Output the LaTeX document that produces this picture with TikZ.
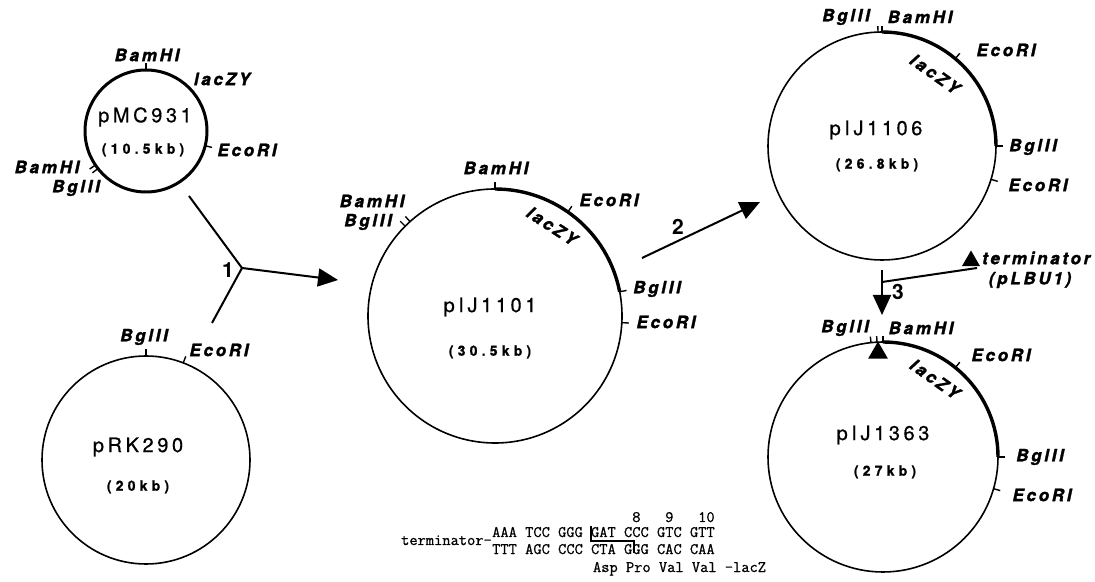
\documentclass[tikz,border=0pt]{standalone}
\usepackage{fontspec}
\setmainfont{TeX Gyre Heros}
\newfontfamily\enzfont[LetterSpace=16,FakeBold=1.6]{TeX Gyre Heros}
\newfontfamily\namefont[LetterSpace=18,FakeBold=0.6]{TeX Gyre Heros}
\newfontfamily\sizefont[LetterSpace=30,FakeBold=0.8]{TeX Gyre Heros}
\newfontfamily\seqfont[FakeBold=0.9]{Latin Modern Mono}
\usetikzlibrary{arrows.meta,calc,shapes.geometric}

% short radial tick marking a restriction site on a plasmid circle
\newcommand{\site}[3][7]{\draw[sitetick] (#2.#3) -- ($(#2.#3)!-#1pt!(#2.center)$);}

\tikzset{
  plasmid/.style={circle, draw, line width=1.6pt, inner sep=0pt, outer sep=0pt, minimum size=#1},
  laczarc/.style={line width=3.4pt},
  sitetick/.style={line width=1.4pt},
  enz/.style={font=\enzfont\bfseries\itshape\fontsize{17}{17}\selectfont, inner sep=0pt},
  pname/.style={font=\namefont\fontsize{20}{20}\selectfont, inner sep=0pt},
  psize/.style={font=\sizefont\bfseries\fontsize{14}{14}\selectfont, inner sep=0pt},
  stepnum/.style={font=\bfseries\fontsize{21}{21}\selectfont, inner sep=0pt},
  conn/.style={line width=2pt},
  arr/.style={line width=2pt, -{Triangle[length=20pt,width=18pt]}},
  tri/.style={regular polygon, regular polygon sides=3, fill=black, inner sep=0pt, minimum size=#1},
  seq/.style={font=\seqfont\fontsize{16}{16}\selectfont, inner sep=0pt},
}

\begin{document}
\begin{tikzpicture}[x=1pt,y=1pt]
\fill[white] (0,0) rectangle (1095,581);
\useasboundingbox (0,0) rectangle (1095,581);

% ---- pMC931 ----
\node[plasmid=122, line width=3pt] (pmc) at (146,450) {};
\node[pname] (pmcname) at (145,464) {pMC931};
\node[psize] (pmcsize) at (143,431) {(10.5kb)};
\site{pmc}{90}
\site{pmc}{-14}
\site{pmc}{-142}
\site{pmc}{-146}
\node[enz] (pmcbam) at (147,526) {BamHI};
\node[enz] (pmclac) at (222,502) {lacZY};
\node[enz] (pmceco) at (247,431) {EcoRI};
\node[enz] (pmcbam2) at (47,414) {BamHI};
\node[enz] (pmcbgl) at (76,393) {BglII};

% ---- pRK290 ----
\node[plasmid=208] (prk) at (146,121) {};
\node[pname] (prkname) at (138,134) {pRK290};
\node[psize] (prksize) at (138,94) {(20kb)};
\site{prk}{90}
\site{prk}{69}
\node[enz] (prkbgl) at (144,244) {BglII};
\node[enz] (prkeco) at (219,231) {EcoRI};

% ---- step 1: pMC931 + pRK290 ----
\coordinate (s1a) at (189,385);
\coordinate (s1b) at (212,258);
\coordinate (j1) at (242,313);
\coordinate (t1) at (338,301);
\draw[conn] (s1a) -- (j1) -- (s1b);
\draw[arr] (j1) -- (t1);
\node[stepnum] (n1) at (228,311) {1};

% ---- pIJ1101 ----
\node[plasmid=254] (pija) at (495,265) {};
\draw[laczarc] (pija.90) arc[start angle=90, end angle=11, radius=127];
\node[pname] (pijaname) at (490,274) {pIJ1101};
\node[psize] (pijasize) at (490,229) {(30.5kb)};
\site{pija}{90}
\site{pija}{132}
\site{pija}{135}
\site{pija}{55}
\site{pija}{11}
\site{pija}{-3}
\node[enz] (pijabam) at (496,413) {BamHI};
\node[enz] (pijabam2) at (372,380) {BamHI};
\node[enz] (pijabgl2) at (368,359) {BglII};
\node[enz] (pijaeco) at (609,381) {EcoRI};
\node[enz, rotate=-33] (pijalac) at (552,355) {lacZY};
\node[enz] (pijabgl) at (657,292) {BglII};
\node[enz] (pijaeco2) at (666,259) {EcoRI};

% ---- step 2 ----
\coordinate (s2) at (642,323);
\coordinate (t2) at (760,379);
\draw[arr] (s2) -- (t2);
\node[stepnum] (n2) at (678,354) {2};

% ---- pIJ1106 ----
\node[plasmid=228] (pijb) at (882,435) {};
\draw[laczarc] (pijb.90) arc[start angle=90, end angle=0, radius=114];
\node[pname] (pijbname) at (876,451) {pIJ1106};
\node[psize] (pijbsize) at (877,416) {(26.8kb)};
\site[6]{pijb}{90}
\site[6]{pijb}{92}
\site{pijb}{50}
\site{pijb}{0}
\site{pijb}{-17}
\node[enz] (pijbbgl2) at (846,564) {BglII};
\node[enz] (pijbbam) at (920,564) {BamHI};
\node[enz] (pijbeco) at (1006,531) {EcoRI};
\node[enz, rotate=-35] (pijblac) at (935,507) {lacZY};
\node[enz] (pijbbgl) at (1033,434) {BglII};
\node[enz] (pijbeco2) at (1038,396) {EcoRI};

% ---- step 3: terminator insertion ----
\node[tri=21] (term) at (971,320) {};
\node[enz, anchor=west] (termtxt) at (982,323) {terminator};
\node[enz] (plbu) at (1030,301) {(pLBU1)};
\coordinate (tl) at (977,313);
\coordinate (m3) at (882,299);
\coordinate (s3) at (882,311);
\coordinate (t3) at (882,266);
\draw[conn] (tl) -- (m3);
\draw[arr] (s3) -- (t3);
\node[stepnum] (n3) at (898,289) {3};

% ---- pIJ1363 ----
\node[plasmid=230] (pijc) at (883,124) {};
\draw[laczarc] (pijc.90) arc[start angle=90, end angle=0, radius=115];
\node[pname] (pijcname) at (883,146) {pIJ1363};
\node[psize] (pijcsize) at (885,109) {(27kb)};
\site[6]{pijc}{90}
\site[6]{pijc}{93}
\site[6]{pijc}{96}
\node[tri=23] (ins) at (878,228) {};
\site{pijc}{51}
\site{pijc}{0}
\site{pijc}{-16}
\node[enz] (pijcbgl2) at (845,253) {BglII};
\node[enz] (pijcbam) at (921,253) {BamHI};
\node[enz] (pijceco) at (1001,226) {EcoRI};
\node[enz, rotate=-35] (pijclac) at (935,202) {lacZY};
\node[enz] (pijcbgl) at (1040,124) {BglII};
\node[enz] (pijceco2) at (1042,86) {EcoRI};

% ---- junction sequence ----
\node[seq, anchor=base east] (seqlab) at (492,36) {terminator-};
\node[seq, anchor=base west] (seqnum) at (492,59) {\phantom{AAA\ TCC\ GGG\ GAT\ C}8\ \ \ 9\ \ \ 10};
\node[seq, anchor=base west] (seqtop) at (492,44) {AAA\ TCC\ GGG\ GAT\ CCC\ GTC\ GTT};
\node[seq, anchor=base west] (seqbot) at (492,27) {TTT\ AGC\ CCC\ CTA\ GGG\ CAC\ CAA};
\node[seq, anchor=base west] (seqaa) at (592.8,9) {Asp\ Pro\ Val\ Val\ -lacZ};
\draw[line width=1.2pt] (591,55) -- (591,40) -- (634,40) -- (634,28);
\end{tikzpicture}
\end{document}
